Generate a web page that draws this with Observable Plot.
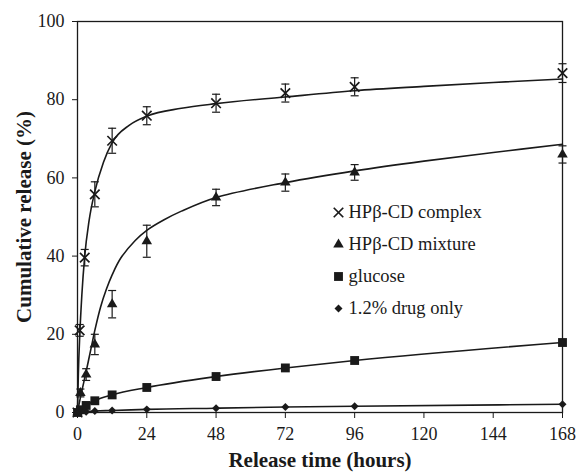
<!DOCTYPE html>
<html><head><meta charset="utf-8">
<script src="https://cdn.jsdelivr.net/npm/d3@7"></script>
<script src="https://cdn.jsdelivr.net/npm/@observablehq/plot@0.6"></script>
<style>body{margin:0;background:#fff}#chart{width:578px;height:473px}#chart svg, #chart svg text{font-family:'Liberation Serif','Times New Roman',serif}</style>
</head><body><div id="chart"></div>
<script>
const seriesNames = ["HPβ-CD complex", "HPβ-CD mixture", "glucose", "1.2% drug only"];
const seriesSymbols = ["times", "triangle", "square", "diamond2"];

const xTitle = "Release time (hours)";
const yTitle = "Cumulative release (%)";
const xTicks = [0, 24, 48, 72, 96, 120, 144, 168];
const yTicks = [0, 20, 40, 60, 80, 100];

// measured points
const tComplex = [0, 0.75, 2.5, 6, 12, 24, 48, 72, 96, 168];
const complexMean = [0, 21, 39.6, 55.8, 69.5, 75.9, 79.1, 81.7, 83.3, 86.8];
const complexErr = [0, 1.5, 2.1, 3.2, 3.2, 2.3, 2.3, 2.3, 2.3, 2.4];

const tMixture = [0, 1, 3, 6, 12, 24, 48, 72, 96, 168];
const mixtureMean = [0, 5, 9.7, 17.4, 27.7, 43.8, 55, 58.8, 61.4, 66];
const mixtureErr = [0, 1, 1.5, 2.6, 3.5, 4.1, 2.1, 2.2, 2, 2.2];

const tGlucose = [0, 1, 3, 6, 12, 24, 48, 72, 96, 168];
const glucoseMean = [0, 0.7, 1.8, 3, 4.5, 6.4, 9.2, 11.4, 13.3, 17.9];

const tDrug = [0, 1, 3, 6, 12, 24, 48, 72, 96, 168];
const drugMean = [0, 0.1, 0.2, 0.4, 0.5, 0.8, 1.1, 1.4, 1.6, 2.1];

// fitted curves
const tComplexFit = [0, 0.3, 0.8, 1.5, 2.5, 4, 6, 9, 12, 18, 24, 36, 48, 72, 96, 120, 144, 168];
const complexFit = [0, 10, 20, 30, 40, 49, 56.5, 64, 69, 73.5, 75.8, 77.8, 79, 80.7, 82.3, 83.4, 84.4, 85.3];

const tMixtureFit = [0, 1, 3, 5, 6, 8, 10, 12, 15, 20, 24, 30, 36, 48, 72, 96, 120, 144, 168];
const mixtureFit = [0, 3.8, 10.5, 17.5, 21, 27, 31.5, 35.2, 39.5, 44, 46.6, 49.3, 51.5, 55, 58.8, 61.8, 64.3, 66.5, 68.6];

const rows = (t, v, e) => t.map((d, i) => ({t: d, v: v[i], e: e ? e[i] : 0}));
const complex = rows(tComplex, complexMean, complexErr);
const mixture = rows(tMixture, mixtureMean, mixtureErr);
const glucose = rows(tGlucose, glucoseMean);
const drug = rows(tDrug, drugMean);
const complexCurve = rows(tComplexFit, complexFit);
const mixtureCurve = rows(tMixtureFit, mixtureFit);

const font = "'Liberation Serif', 'Times New Roman', serif";
const cap = {draw(ctx) { ctx.moveTo(-4, 0); ctx.lineTo(4, 0); }};
const ink = "#1a1a1a";

const errMarks = (data) => {
  const d = data.filter(r => r.e > 0);
  return [
    Plot.ruleX(d, {x: "t", y1: r => r.v - r.e, y2: r => r.v + r.e, stroke: ink, strokeWidth: 1.2}),
    Plot.dot(d, {x: "t", y: r => r.v + r.e, symbol: cap, stroke: ink, strokeWidth: 1.2, fill: "none"}),
    Plot.dot(d, {x: "t", y: r => r.v - r.e, symbol: cap, stroke: ink, strokeWidth: 1.2, fill: "none"})
  ];
};

const symStyle = (i) => i === 0
  ? {symbol: seriesSymbols[i], r: 4.4, stroke: ink, strokeWidth: 1.7, fill: "none"}
  : {symbol: seriesSymbols[i], r: [0, 3.9, 5, 3.6][i], fill: ink, stroke: "none"};

const legend = seriesNames.flatMap((name, i) => [
  Plot.dot([name], {frameAnchor: "top-left", dx: 261, dy: 191 + i * 32, ...symStyle(i)}),
  Plot.text([name], {frameAnchor: "top-left", dx: 271, dy: 191 + i * 32, text: d => d, textAnchor: "start", lineAnchor: "middle", fontSize: 18.5, fontFamily: font, fill: ink})
]);

const chart = Plot.plot({
  width: 578, height: 473,
  marginLeft: 77, marginRight: 16, marginTop: 21, marginBottom: 61,
  style: "font-family: 'Liberation Serif', 'Times New Roman', serif; font-size: 18px; color: #1a1a1a; background: #fff;",
  x: {domain: [0, 168]},
  y: {domain: [0, 100]},
  marks: [
    Plot.axisX({ticks: xTicks, tickSize: 6, tickPadding: 9, label: null, tickFormat: d => d, stroke: ink, fontFamily: font, fontSize: 18}),
    Plot.axisY({ticks: yTicks, tickSize: 5, tickPadding: 8, label: null, tickFormat: d => d, stroke: ink, fontFamily: font, fontSize: 18}),
    Plot.frame({stroke: ink, strokeWidth: 1.3}),
    Plot.line(complexCurve, {x: "t", y: "v", curve: "monotone-x", stroke: ink, strokeWidth: 1.6}),
    Plot.line(mixtureCurve, {x: "t", y: "v", curve: "catmull-rom", stroke: ink, strokeWidth: 1.6}),
    Plot.line(glucose, {x: "t", y: "v", curve: "monotone-x", stroke: ink, strokeWidth: 1.6}),
    Plot.line(drug, {x: "t", y: "v", curve: "monotone-x", stroke: ink, strokeWidth: 1.6}),
    ...errMarks(complex),
    ...errMarks(mixture),
    Plot.dot(drug, {x: "t", y: "v", ...symStyle(3)}),
    Plot.dot(glucose, {x: "t", y: "v", ...symStyle(2)}),
    Plot.dot(mixture, {x: "t", y: "v", ...symStyle(1)}),
    Plot.dot(complex, {x: "t", y: "v", ...symStyle(0)}),
    ...legend,
    Plot.text([xTitle], {frameAnchor: "bottom", dy: 48, text: d => d, textAnchor: "middle", lineAnchor: "middle", fontWeight: "bold", fontSize: 21, fontFamily: font, fill: ink}),
    Plot.text([yTitle], {frameAnchor: "left", dx: -53, rotate: -90, text: d => d, textAnchor: "middle", lineAnchor: "middle", fontWeight: "bold", fontSize: 21, fontFamily: font, fill: ink})
  ]
});
document.getElementById("chart").append(chart);
</script></body></html>
